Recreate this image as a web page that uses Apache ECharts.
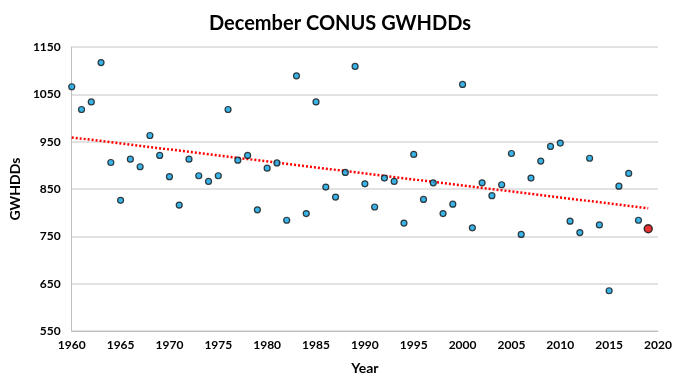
<!DOCTYPE html>
<html>
<head>
<meta charset="utf-8">
<script src="https://cdn.jsdelivr.net/npm/echarts@6/dist/echarts.min.js"></script>
<style>
html,body{margin:0;padding:0;background:#fff;}
#chart{width:680px;height:388px;}
</style>
</head>
<body>
<div id="chart"></div>
<script>
var years = [1960,1961,1962,1963,1964,1965,1966,1967,1968,1969,
             1970,1971,1972,1973,1974,1975,1976,1977,1978,1979,
             1980,1981,1982,1983,1984,1985,1986,1987,1988,1989,
             1990,1991,1992,1993,1994,1995,1996,1997,1998,1999,
             2000,2001,2002,2003,2004,2005,2006,2007,2008,2009,
             2010,2011,2012,2013,2014,2015,2016,2017,2018,2019];
var gwhdds = [1066,1018,1034,1117,906,826,913,897,963,921,
              876,816,913,878,866,878,1018,911,921,806,
              894,905,784,1089,798,1034,854,833,885,1109,
              861,812,873,866,778,923,828,863,798,818,
              1071,768,863,836,859,925,754,873,909,940,
              947,782,758,915,774,635,856,883,784,766];
var yTicks = [550,650,750,850,950,1050,1150];
var xTicks = [1960,1965,1970,1975,1980,1985,1990,1995,2000,2005,2010,2015,2020];

var n = years.length;
var mainPts = [], lastPt = [];
for (var i = 0; i < n; i++) {
  if (i === n - 1) lastPt.push([years[i], gwhdds[i]]);
  else mainPts.push([years[i], gwhdds[i]]);
}
// least-squares linear trend
var sx=0, sy=0, sxx=0, sxy=0;
for (var i = 0; i < n; i++) { sx+=years[i]; sy+=gwhdds[i]; sxx+=years[i]*years[i]; sxy+=years[i]*gwhdds[i]; }
var slope = (n*sxy - sx*sy)/(n*sxx - sx*sx);
var icpt = (sy - slope*sx)/n;
var trend = [[years[0], icpt + slope*years[0]], [years[n-1], icpt + slope*years[n-1]]];

var font = 'Lato, "Liberation Sans", sans-serif';
var chart = echarts.init(document.getElementById('chart'), null, {renderer:'canvas'});
chart.setOption({
  backgroundColor: '#ffffff',
  animation: false,
  title: {
    text: 'December CONUS GWHDDs',
    left: 'center', top: 9,
    textStyle: {fontFamily: font, fontWeight: 'bold', fontSize: 20, color: '#000'}
  },
  grid: {left: 67, right: 22, top: 47, bottom: 57, containLabel: false},
  xAxis: {
    type: 'value', min: 1960, max: 2020, interval: 5,
    name: 'Year', nameLocation: 'middle', nameGap: 30,
    nameTextStyle: {fontFamily: font, fontWeight: 'bold', fontSize: 14, color: '#000'},
    axisLine: {show: true, lineStyle: {color: '#bfbfbf', width: 1}},
    axisTick: {show: false},
    splitLine: {show: false},
    axisLabel: {fontFamily: font, fontWeight: 'bold', fontSize: 12, color: '#000', margin: 8,
      formatter: function(v){ return xTicks.indexOf(v) >= 0 ? String(v) : ''; }}
  },
  yAxis: {
    type: 'value', min: 550, max: 1150, interval: 100,
    name: 'GWHDDs', nameLocation: 'middle', nameGap: 36, nameRotate: 90,
    nameTextStyle: {fontFamily: font, fontWeight: 'bold', fontSize: 14, color: '#000'},
    axisLine: {show: true, lineStyle: {color: '#bfbfbf', width: 1}},
    axisTick: {show: false},
    splitLine: {show: true, lineStyle: {color: '#d9d9d9', width: 1.5}},
    axisLabel: {fontFamily: font, fontWeight: 'bold', fontSize: 12, color: '#000', margin: 11,
      formatter: function(v){ return yTicks.indexOf(v) >= 0 ? String(v) : ''; }}
  },
  series: [
    {
      type: 'line', data: trend, showSymbol: false, symbol: 'none', silent: true,
      lineStyle: {color: '#ff0000', width: 2.5, type: [2, 2]}, z: 1
    },
    {
      type: 'scatter', data: mainPts, symbol: 'circle', symbolSize: 6,
      itemStyle: {color: '#0aa0e0', borderColor: '#111111', borderWidth: 1.2}, z: 3
    },
    {
      type: 'scatter', data: lastPt, symbol: 'circle', symbolSize: 8,
      itemStyle: {color: '#e00000', borderColor: '#111111', borderWidth: 1.5}, z: 4
    }
  ]
});
</script>
</body>
</html>
